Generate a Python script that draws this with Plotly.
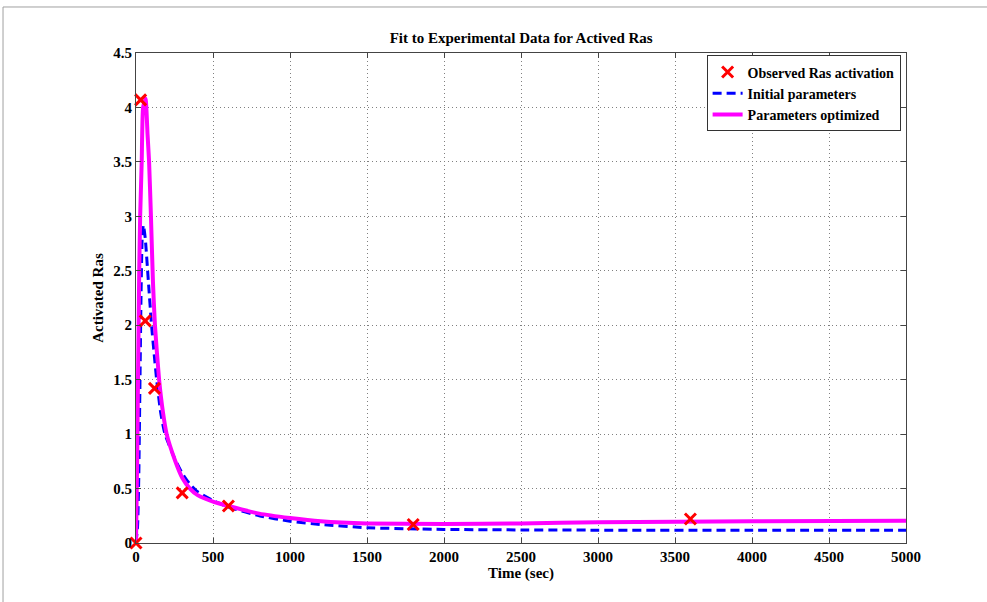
import plotly.graph_objects as go

# Observed data
obs_t = [0, 30, 60, 120, 300, 600, 1800, 3600]
obs_y = [0.0, 4.07, 2.04, 1.42, 0.46, 0.34, 0.17, 0.22]

# Initial parameters curve
init_t = [0, 10, 18, 26, 33, 40, 48, 60, 80, 101, 117, 134, 160, 188, 250, 300, 350, 400,
          500, 600, 800, 1000, 1200, 1500, 2000, 2500, 3000, 4000, 5000]
init_y = [0.0, 0.15, 0.6, 1.5, 2.3, 2.8, 2.92, 2.8, 2.41, 2.0, 1.75, 1.5, 1.2, 1.0, 0.78,
          0.64, 0.54, 0.47, 0.39, 0.33, 0.25, 0.2, 0.17, 0.14, 0.125, 0.12, 0.118, 0.117, 0.117]

# Optimized parameters curve
opt_t = [0, 8, 13, 17, 21, 27, 37, 46, 62, 75, 85, 97, 110, 123, 150, 175, 199, 253, 300,
         350, 400, 500, 600, 800, 1000, 1200, 1500, 2000, 2500, 3000, 4000, 5000]
opt_y = [0.0, 0.8, 1.5, 2.0, 2.5, 3.0, 3.5, 4.0, 4.08, 3.75, 3.5, 3.0, 2.4, 2.0, 1.5, 1.2,
         1.0, 0.76, 0.6, 0.5, 0.44, 0.38, 0.34, 0.27, 0.23, 0.2, 0.18, 0.175, 0.18, 0.19,
         0.2, 0.205]

x_ticks = [0, 500, 1000, 1500, 2000, 2500, 3000, 3500, 4000, 4500, 5000]
y_ticks = [0, 0.5, 1, 1.5, 2, 2.5, 3, 3.5, 4, 4.5]

SERIF = "Liberation Serif"

fig = go.Figure()
fig.add_trace(go.Scatter(
    x=init_t, y=init_y, mode="lines", name="Initial parameters", legendrank=2,
    line=dict(color="#0000ff", width=3, dash="9px,5px", shape="spline", smoothing=0.5),
))
fig.add_trace(go.Scatter(
    x=opt_t, y=opt_y, mode="lines", name="Parameters optimized", legendrank=3,
    line=dict(color="#ff00ff", width=4, shape="spline", smoothing=0.5),
))
fig.add_trace(go.Scatter(
    x=obs_t, y=obs_y, mode="markers", name="Observed Ras activation", legendrank=1,
    cliponaxis=False,
    marker=dict(symbol="x-thin", size=11, color="red", line=dict(width=3, color="red")),
))

axis_common = dict(
    showline=True, linecolor="#444444", linewidth=1, mirror="ticks",
    ticks="inside", ticklen=5, tickcolor="#444444",
    showgrid=True, gridcolor="#808080", griddash="1px,3px", gridwidth=1,
    zeroline=False,
    tickfont=dict(family=SERIF, size=15, color="black", weight=700),
)

fig.update_layout(
    width=987, height=602,
    paper_bgcolor="white", plot_bgcolor="white",
    margin=dict(l=136, r=81, t=53, b=59),
    title=dict(text="Fit to Experimental Data for Actived Ras", x=0.528, xanchor="center",
               y=0.938, yanchor="middle",
               font=dict(family=SERIF, size=15, color="black", weight=700)),
    xaxis=dict(range=[0, 5000], tickvals=x_ticks,
               title=dict(text="Time (sec)", standoff=2,
                          font=dict(family=SERIF, size=15, color="black", weight=700)),
               **axis_common),
    yaxis=dict(range=[0, 4.5], tickvals=y_ticks,
               title=dict(text="Activated Ras", standoff=6,
                          font=dict(family=SERIF, size=15, color="black", weight=700)),
               **axis_common),
    legend=dict(x=0.993, y=0.995, xanchor="right", yanchor="top",
                bgcolor="white", bordercolor="#333333", borderwidth=1,
                font=dict(family=SERIF, size=14, color="black", weight=700),
                tracegroupgap=0, itemwidth=30, traceorder="normal"),
    showlegend=True,
    shapes=[dict(type="path", xref="paper", yref="paper",
                 path="M -0.1727,-0.2 L -0.1727,1.0939 L 1.2,1.0939",
                 line=dict(color="#a0a0a0", width=1), layer="below")],
)

fig.write_html("out.html", config={"displayModeBar": False},
               post_script="document.body.style.margin='0';")
